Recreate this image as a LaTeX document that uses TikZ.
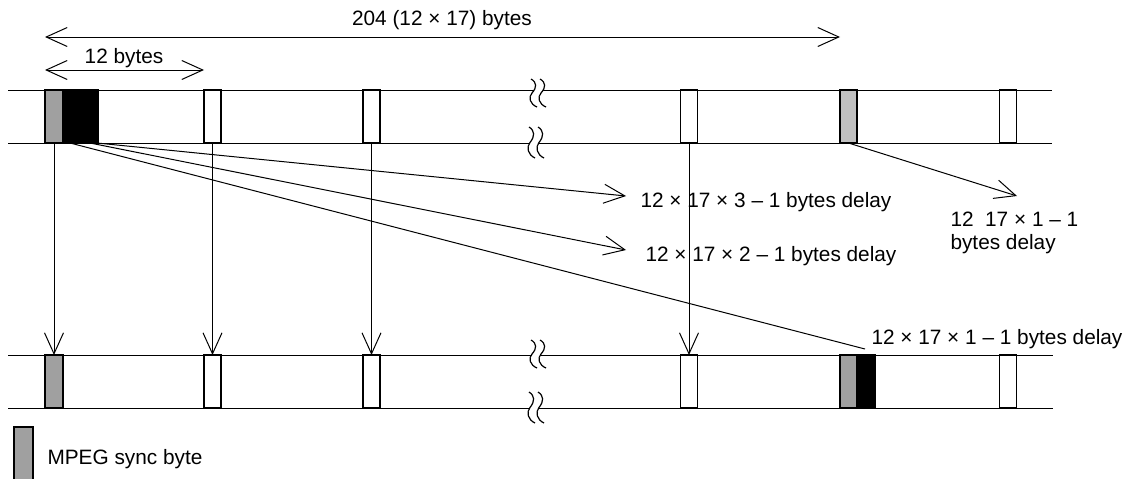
\documentclass[tikz,border=0pt]{standalone}
\usepackage{fontspec}
\setmainfont{Liberation Sans}
\usetikzlibrary{arrows.meta,calc}
% one S-shaped break stroke: x, top y, bottom y
\newcommand\sstroke[3]{(#1,#2) .. controls ({#1+6},{#2+0.12*(#3-#2)}) and ({#1+6},{#2+0.3*(#3-#2)}) .. ({#1+1},{#2+0.5*(#3-#2)})
   .. controls ({#1-3},{#2+0.65*(#3-#2)}) and ({#1-1},{#2+0.9*(#3-#2)}) .. ({#1+6},#3)}
\newcommand\squig[3]{%
  \fill[white] \sstroke{#1}{#2}{#3} -- ({#1+9},#3) -- ({#1+9},#2) -- cycle;
  \fill[white] \sstroke{#1+9}{#2}{#3} -- ({#1+5},#3) -- ({#1+5},#2) -- cycle;
  \draw[line width=1.2pt] \sstroke{#1}{#2}{#3};
  \draw[line width=1.2pt] \sstroke{#1+9}{#2}{#3};
}
\begin{document}
\begin{tikzpicture}[x=1pt,y=-1pt,line width=1pt,
  cell/.style={draw=black, line width=1.2pt, inner sep=0pt, outer sep=0pt, minimum width=17pt, minimum height=53pt},
  wbox/.style={cell, fill=white},
  gbox/.style={cell, fill={rgb,255:red,160;green,160;blue,160}},
  lgbox/.style={cell, fill={rgb,255:red,192;green,192;blue,192}},
  kbox/.style={cell, fill=black},
  arr/.style={-{Straight Barb[length=21pt,width=19pt]}},
  darr/.style={{Straight Barb[length=21pt,width=19pt]}-{Straight Barb[length=21pt,width=19pt]}},
  lbl/.style={font=\fontsize{20.8}{24}\selectfont, inner sep=0pt, anchor=base west},
]
\useasboundingbox (0,0) rectangle (1133,479);
% frame lines
\draw (8,90) -- (1052,90);
\draw (8,143) -- (1052,143);
\draw (8,355) -- (1053,355);
\draw (8,408) -- (1053,408);
\squig{531}{79}{107}
\squig{529}{127}{158}
\squig{531}{340}{368}
\squig{529}{392}{423}
% top row
\node[gbox, minimum width=18pt] (t0) at (54,116.5) {};
\node[kbox, minimum width=35pt] (t1) at (80.5,116.5) {};
\node[wbox] (t2) at (212.5,116.5) {};
\node[wbox] (t3) at (371.5,116.5) {};
\node[wbox] (t4) at (689,116.5) {};
\node[lgbox] (t5) at (848.5,116.5) {};
\node[wbox] (t6) at (1008,116.5) {};
% bottom row
\node[gbox, minimum width=18pt] (b0) at (54,381.5) {};
\node[wbox] (b2) at (212.5,381.5) {};
\node[wbox] (b3) at (371.5,381.5) {};
\node[wbox] (b4) at (689,381.5) {};
\node[gbox] (b5) at (848.5,381.5) {};
\node[kbox, minimum width=18pt] (b6) at (866,381.5) {};
\node[wbox] (b7) at (1008,381.5) {};
% dimension arrows
\coordinate (d1a) at (45,37);
\coordinate (d1b) at (840,37);
\coordinate (d2a) at (45,70);
\coordinate (d2b) at (204,70);
\draw[darr] (d1a) -- (d1b);
\draw[darr] (d2a) -- (d2b);
\node[lbl, anchor=base] (tt1) at (442,25) {204 (12 × 17) bytes};
\node[lbl, anchor=base] (tt2) at (124,63) {12 bytes};
% vertical arrows
\draw[arr] (t0.south) -- (b0.north);
\draw[arr] (t2.south) -- (b2.north);
\draw[arr] (t3.south) -- (b3.north);
\draw[arr] (t4.south) -- (b4.north);
% delay arrows
\coordinate (e3) at (626,196);
\coordinate (e2) at (626,250);
\coordinate (e1) at (865,349);
\coordinate (er) at (1017,196);
\draw[arr] ($(t1.south west)!0.97!(t1.south east)$) -- (e3);
\draw[arr] ($(t1.south west)!0.77!(t1.south east)$) -- (e2);
\draw ($(t1.south west)!0.2!(t1.south east)$) -- (e1);
\draw[arr] (t5.south) -- (er);
\node[lbl] (l3) at (640,207) {12 × 17 × 3 – 1 bytes delay};
\node[lbl] (l2) at (645,261) {12 × 17 × 2 – 1 bytes delay};
\node[lbl] (l1) at (871,344) {12 × 17 × 1 – 1 bytes delay};
\node[lbl] (lr1) at (950,226) {12\ \ 17 × 1 – 1};
\node[lbl] (lr2) at (950,249) {bytes delay};
% legend
\node[gbox, minimum width=19pt, minimum height=60pt, anchor=north west] (leg) at (14,427) {};
\node[lbl] (legt) at (47,464) {MPEG sync byte};
\end{tikzpicture}
\end{document}
